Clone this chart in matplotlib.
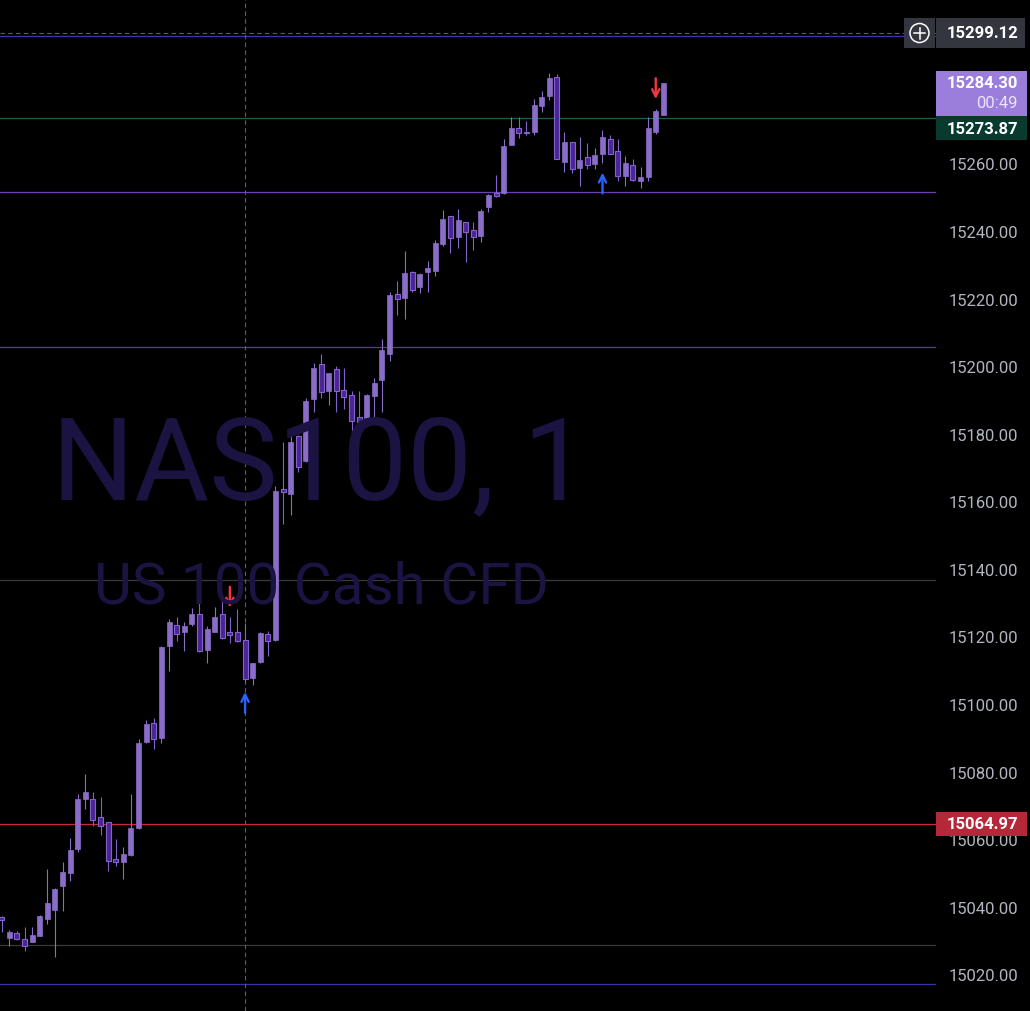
import numpy as np
import matplotlib.pyplot as plt
from matplotlib.patches import Rectangle, Circle

# 1 minute NAS100 candles
opens = [15037.4, 15031.3, 15032.7, 15030.9, 15030.1, 15031.9, 15036.9, 15039.6, 15046.7, 15050.3,
         15057.6, 15072.2, 15072.4, 15066.9, 15065.5, 15054.6, 15053.8, 15055.9, 15063.8, 15089.3,
         15094.9, 15090.3, 15117.7, 15123.7, 15121.7, 15124.2, 15127.1, 15116.3, 15121.9, 15127.1,
         15121.7, 15121.7, 15119.5, 15108.2, 15113.0, 15121.2, 15119.5, 15164.0, 15162.6, 15179.7,
         15172.5, 15190.7, 15201.1, 15193.0, 15199.6, 15193.4, 15191.9, 15185.4, 15183.6, 15191.7,
         15196.4, 15204.1, 15221.7, 15220.6, 15228.2, 15223.8, 15228.2, 15228.7, 15236.6, 15244.9,
         15238.6, 15243.0, 15240.8, 15238.9, 15247.4, 15251.6, 15251.6, 15266.0, 15270.8, 15269.4,
         15269.6, 15277.5, 15280.3, 15285.9, 15260.8, 15266.7, 15259.0, 15262.2, 15260.2, 15263.2,
         15267.6, 15264.0, 15256.8, 15259.9, 15255.3, 15256.5, 15269.8, 15274.9]
highs = [15037.6, 15033.5, 15033.3, 15034.5, 15034.5, 15037.9, 15051.7, 15046.0, 15053.6, 15060.8,
         15073.9, 15079.8, 15074.4, 15072.9, 15065.6, 15060.5, 15058.2, 15073.9, 15090.0, 15095.6,
         15096.3, 15117.5, 15125.6, 15126.1, 15124.6, 15128.8, 15130.4, 15123.5, 15129.1, 15131.5,
         15126.1, 15128.6, 15124.5, 15112.7, 15121.9, 15122.2, 15165.1, 15178.1, 15180.1, 15180.0,
         15190.9, 15201.3, 15204.1, 15198.5, 15200.6, 15199.8, 15193.2, 15193.2, 15192.2, 15197.0,
         15208.5, 15222.4, 15225.7, 15234.6, 15228.5, 15228.0, 15231.7, 15237.9, 15246.7, 15245.0,
         15246.9, 15243.1, 15243.0, 15247.0, 15251.5, 15257.0, 15267.7, 15274.1, 15274.1, 15272.9,
         15279.5, 15281.8, 15287.2, 15286.9, 15269.8, 15266.8, 15268.2, 15266.5, 15264.9, 15270.3,
         15268.8, 15267.7, 15262.7, 15261.7, 15259.3, 15274.1, 15276.6, 15284.3]
lows = [15033.1, 15028.7, 15030.7, 15027.5, 15030.0, 15031.7, 15035.3, 15025.7, 15039.3, 15048.2,
        15056.6, 15069.4, 15064.3, 15061.8, 15050.9, 15052.6, 15048.7, 15055.6, 15063.5, 15089.0,
        15087.2, 15089.0, 15110.3, 15119.2, 15116.0, 15123.4, 15115.8, 15112.6, 15121.8, 15119.6,
        15118.5, 15118.9, 15106.9, 15106.1, 15112.6, 15114.6, 15119.0, 15153.7, 15156.4, 15169.0,
        15172.0, 15186.8, 15190.9, 15189.0, 15187.0, 15187.8, 15180.6, 15182.3, 15182.8, 15183.3,
        15187.0, 15202.1, 15215.6, 15214.4, 15222.3, 15222.1, 15222.5, 15227.2, 15235.9, 15233.9,
        15235.3, 15231.4, 15234.9, 15237.3, 15246.0, 15250.4, 15251.5, 15265.8, 15267.9, 15268.8,
        15268.8, 15275.7, 15279.3, 15261.7, 15257.8, 15257.6, 15253.8, 15258.8, 15258.8, 15260.6,
        15263.1, 15255.3, 15253.8, 15255.3, 15253.3, 15255.3, 15269.1, 15274.9]
closes = [15036.5, 15033.1, 15030.9, 15028.8, 15032.1, 15037.7, 15041.6, 15045.7, 15050.7, 15057.3,
          15072.4, 15074.4, 15066.2, 15064.3, 15053.9, 15053.6, 15056.1, 15063.8, 15088.9, 15094.5,
          15090.1, 15117.3, 15124.6, 15121.1, 15123.5, 15127.1, 15116.1, 15122.7, 15126.1, 15119.9,
          15120.9, 15119.0, 15107.9, 15112.6, 15121.5, 15119.0, 15163.6, 15163.2, 15178.1, 15170.7,
          15190.2, 15199.9, 15192.7, 15198.4, 15193.2, 15191.2, 15184.3, 15183.8, 15191.9, 15195.5,
          15205.3, 15221.5, 15220.3, 15228.0, 15223.1, 15227.7, 15229.4, 15236.9, 15244.0, 15238.5,
          15243.6, 15240.0, 15238.6, 15246.3, 15251.0, 15250.7, 15265.5, 15270.8, 15269.4, 15269.3,
          15277.7, 15280.0, 15285.7, 15261.8, 15266.7, 15258.8, 15261.5, 15260.0, 15263.0, 15268.4,
          15263.2, 15256.6, 15260.7, 15255.5, 15256.3, 15270.8, 15275.9, 15284.3]

# horizontal levels drawn on the chart
level_prices = [15298.2, 15273.87, 15252.0, 15206.1, 15137.2, 15064.97, 15029.2, 15017.6]
level_colors = ['#3d3aa8', '#1d6148', '#6c3fb4', '#4a3ea8', '#3a3a3a', '#c62a3a', '#3a3a3a', '#3636a6']

sell_bars = [30, 86]
buy_bars = [32, 79]

axis_ticks = [15020, 15040, 15060, 15080, 15100, 15120, 15140, 15160, 15180, 15200, 15220, 15240, 15260]
crosshair_price = 15299.12
crosshair_bar = 32
last_price = 15284.30
countdown = "00:49"
prev_close = 15273.87
alert_price = 15064.97

symbol = "NAS100, 1"
description = "US 100 Cash CFD"

W, H = 1030, 1012
pane_w = 936
bar_px = 7.605
first_px = 1.7
y_lo, y_hi = 15009.6, 15309.1
px = (y_hi - y_lo) / H  # price units per pixel

up_col = '#8a6dc8'
dn_fill = '#4b2496'
dn_edge = '#8263cc'
font = ['Roboto', 'DejaVu Sans']

fig = plt.figure(figsize=(W / 100, H / 100), dpi=100, facecolor='black')
ax = fig.add_axes([0, 0, pane_w / W, 1])
ax.set_xlim(-first_px / bar_px, (pane_w - first_px) / bar_px)
ax.set_ylim(y_lo, y_hi)
ax.axis('off')

# watermark
fig.text(320 / W, 1 - 499 / H, symbol, ha='center', va='baseline', fontsize=83,
         color='#1b1442', family=font, zorder=0)
fig.text(322 / W, 1 - 604 / H, description, ha='center', va='baseline', fontsize=42,
         color='#1b1442', family=font, zorder=0)

for p, col in zip(level_prices, level_colors):
    ax.axhline(p, color=col, lw=0.9, zorder=1)

ax.axhline(crosshair_price, color='#5d606b', lw=0.8, ls=(0, (4, 3)), zorder=1)
ax.axvline(crosshair_bar, color='#5d606b', lw=0.8, ls=(0, (4, 3)), zorder=1)

o = np.array(opens)
h = np.array(highs)
l = np.array(lows)
c = np.array(closes)
idx = np.arange(len(o))
up = c >= o
bottoms = np.minimum(o, c)
heights = np.maximum(np.abs(c - o), px)
body_w = 5 / bar_px

ax.vlines(idx[up], l[up], h[up], color=up_col, lw=0.8, zorder=2)
ax.vlines(idx[~up], l[~up], h[~up], color=dn_edge, lw=0.8, zorder=2)
ax.bar(idx[up], heights[up], bottom=bottoms[up], width=body_w, color=up_col,
       edgecolor=up_col, lw=0.5, zorder=3)
ax.bar(idx[~up], heights[~up], bottom=bottoms[~up], width=body_w, color=dn_fill,
       edgecolor=dn_edge, lw=0.8, zorder=3)

for i in sell_bars:
    ax.annotate('', xy=(i, highs[i]), xytext=(0, 22), textcoords='offset points',
                arrowprops=dict(arrowstyle='->', color='#f23645', lw=1.7,
                                shrinkA=0, shrinkB=7, mutation_scale=13), zorder=4)
for i in buy_bars:
    ax.annotate('', xy=(i, lows[i]), xytext=(0, -22), textcoords='offset points',
                arrowprops=dict(arrowstyle='->', color='#2962ff', lw=1.7,
                                shrinkA=0, shrinkB=7, mutation_scale=13), zorder=4)

# price scale
ax2 = fig.add_axes([pane_w / W, 0, (W - pane_w) / W, 1])
ax2.set_xlim(0, W - pane_w)
ax2.set_ylim(y_lo, y_hi)
ax2.axis('off')
for v in axis_ticks:
    ax2.text(82, v, f"{v:.2f}", ha='right', va='center', color='#b2b5be',
             fontsize=12, family=font)


def price_box(price, text, face, top_px, bottom_px, text_px=0, width=91):
    ax2.add_patch(Rectangle((0, price - bottom_px * px), width, (top_px + bottom_px) * px,
                            facecolor=face, edgecolor='none', zorder=5, clip_on=False))
    ax2.text(82, price - text_px * px, text, ha='right', va='center', color='white',
             fontsize=12, fontweight='bold', family=font, zorder=6)


price_box(crosshair_price, f"{crosshair_price:.2f}", '#33363f', 15, 15, width=89)
price_box(last_price, f"{last_price:.2f}", '#9b7ddc', 12, 33)
ax2.text(82, last_price - 20 * px, countdown, ha='right', va='center', color='#ece4fa',
         fontsize=12, family=font, zorder=6)
price_box(prev_close, f"{prev_close:.2f}", '#083a30', 2, 22, text_px=10)
price_box(alert_price, f"{alert_price:.2f}", '#b5283a', 12, 12)

# plus button next to the crosshair label
ov = fig.add_axes([0, 0, 1, 1], zorder=10)
ov.set_xlim(0, W)
ov.set_ylim(H, 0)
ov.axis('off')
ov.add_patch(Rectangle((904, 19), 31, 30, facecolor='#33363f', edgecolor='none'))
ov.add_patch(Circle((919.5, 34), 9.5, facecolor='none', edgecolor='white', lw=1.1))
ov.plot([914, 925], [34, 34], color='white', lw=1.1)
ov.plot([919.5, 919.5], [28.5, 39.5], color='white', lw=1.1)

plt.savefig("out.png", dpi=100, facecolor='black')
plt.close()
